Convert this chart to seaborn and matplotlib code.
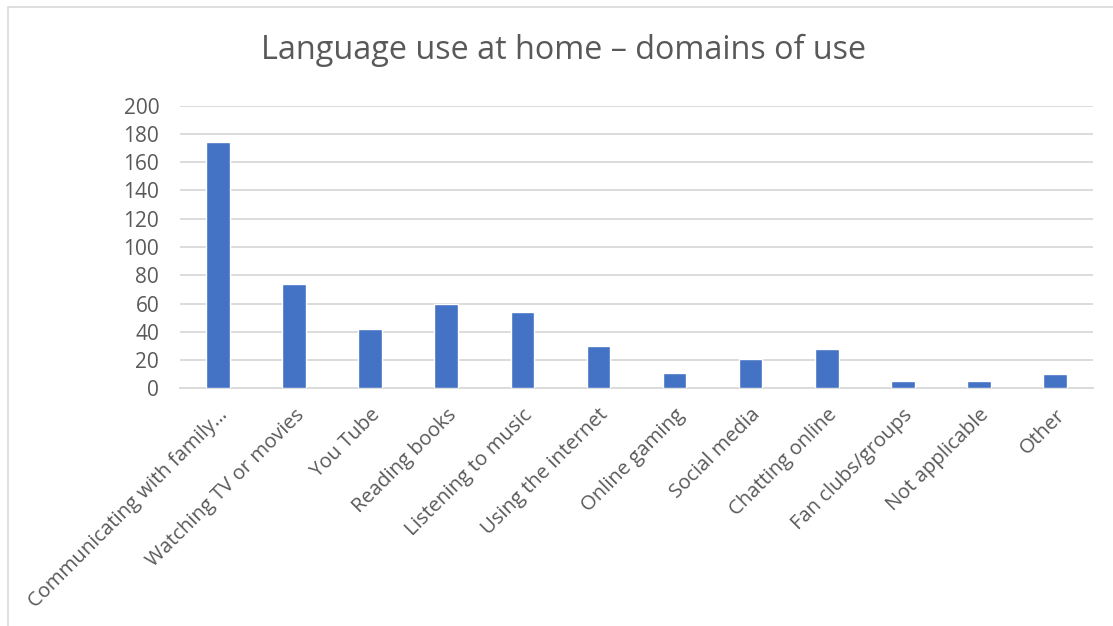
import matplotlib
matplotlib.use("Agg")
import matplotlib.pyplot as plt
from matplotlib.patches import Rectangle
import seaborn as sns
import pandas as pd

categories = [
    "Communicating with family…",
    "Watching TV or movies",
    "You Tube",
    "Reading books",
    "Listening to music",
    "Using the internet",
    "Online gaming",
    "Social media",
    "Chatting online",
    "Fan clubs/groups",
    "Not applicable",
    "Other",
]
counts = [174, 74, 42, 60, 54, 30, 11, 21, 28, 5, 5, 10]
y_ticks = list(range(0, 201, 20))

df = pd.DataFrame({"domain": categories, "count": counts})

sns.set_theme(style="white")
plt.rcParams["font.family"] = ["Open Sans", "DejaVu Sans"]

text_color = "#595959"
grid_color = "#d9d9d9"
bar_color = "#4472c4"

fig = plt.figure(figsize=(11.13, 6.26), dpi=100)
ax = fig.add_axes([180 / 1113, 1 - 388.3 / 626, (1093 - 180) / 1113, (388.3 - 105.7) / 626])

sns.barplot(data=df, x="domain", y="count", color=bar_color, width=0.31,
            saturation=1, ax=ax, zorder=3)

ax.set_ylim(0, 200)
ax.set_yticks(y_ticks)
ax.set_xlim(-0.5, len(categories) - 0.5)
ax.yaxis.grid(True, color=grid_color, linewidth=1.3, zorder=0)
ax.xaxis.grid(False)
for side in ["top", "right", "left"]:
    ax.spines[side].set_visible(False)
ax.spines["bottom"].set_color(grid_color)
ax.spines["bottom"].set_linewidth(1.3)
ax.set_xlabel("")
ax.set_ylabel("")
ax.tick_params(axis="both", length=0, colors=text_color)
ax.tick_params(axis="y", pad=15, labelsize=15)
ax.tick_params(axis="x", pad=12)
ax.set_xticks(range(len(categories)))
ax.set_xticklabels(categories, rotation=45, ha="right", rotation_mode="anchor",
                   color=text_color, fontsize=14.6)

fig.text(564 / 1113, 1 - 50 / 626, "Language use at home – domains of use",
         ha="center", va="center", fontsize=23.3, color=text_color)

fig.patches.append(Rectangle((8 / 1113, -0.01), 1.02, 1 - 7 / 626 + 0.01,
                             transform=fig.transFigure, fill=False,
                             edgecolor=grid_color, linewidth=1.2))

fig.savefig("out.png", dpi=100, facecolor="white")
